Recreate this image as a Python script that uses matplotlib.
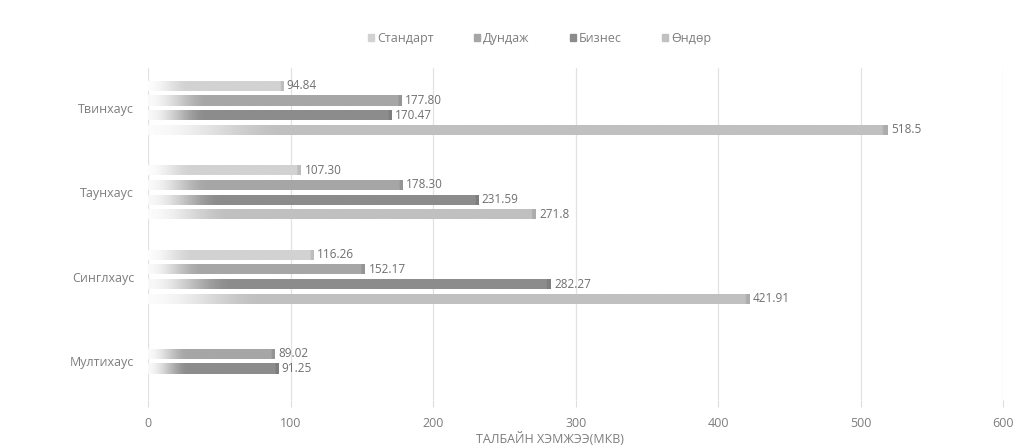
import numpy as np
import matplotlib.pyplot as plt
from matplotlib.colors import to_rgb

categories = ["Твинхаус", "Таунхаус", "Синглхаус", "Мултихаус"]
series = ["Стандарт", "Дундаж", "Бизнес", "Өндөр"]
standart = [94.84, 107.30, 116.26, np.nan]
dundaj = [177.80, 178.30, 152.17, 89.02]
biznes = [170.47, 231.59, 282.27, 91.25]
undur = [518.5, 271.8, 421.91, np.nan]
labels = [
    ["94.84", "107.30", "116.26", ""],
    ["177.80", "178.30", "152.17", "89.02"],
    ["170.47", "231.59", "282.27", "91.25"],
    ["518.5", "271.8", "421.91", ""],
]
colors = ["#d2d2d2", "#a6a6a6", "#8c8c8c", "#c0c0c0"]

plt.rcParams['font.family'] = ['Open Sans', 'DejaVu Sans']
text_color = "#7d7d7d"

fig = plt.figure(figsize=(10.28, 4.48), dpi=100)
ax = fig.add_axes([0.144, 0.107, 0.832, 0.741])

y = np.arange(len(categories))
step = 0.173
height = 0.12
values = [standart, dundaj, biznes, undur]


def gradient_fill(patch, color):
    x0, y0 = patch.get_x(), patch.get_y()
    w, h = patch.get_width(), patch.get_height()
    if not np.isfinite(w) or w <= 0:
        return
    n = 300
    xs = np.linspace(0, w, n)
    fade = 14 + 0.16 * w
    t = np.clip(xs / fade, 0, 1)
    t = 0.06 + 0.94 * (t * t * (3 - 2 * t))
    rgb = np.array(to_rgb(color))
    row = 1 - t[:, None] * (1 - rgb[None, :])
    # slightly darker cap at the bar's end
    cap = xs > w - 2.2
    row[cap] = row[cap] * 0.9
    img = np.repeat(row[None, :, :], 2, axis=0)
    im = ax.imshow(img, extent=(x0, x0 + w, y0, y0 + h), aspect='auto',
                   interpolation='bilinear', zorder=3)
    im.set_clip_path(patch)


for i, (name, vals, c) in enumerate(zip(series, values, colors)):
    pos = y + (i - 1.5) * step
    bars = ax.barh(pos, vals, height=height, color=c, label=name,
                   zorder=2, linewidth=0)
    for b, v, lab in zip(bars, vals, labels[i]):
        gradient_fill(b, c)
        b.set_alpha(0)
        if np.isfinite(v):
            ax.text(v + 2.5, b.get_y() + b.get_height() / 2, lab,
                    va='center', ha='left', fontsize=8.5, color="#6f6f6f")

ax.set_xlim(0, 600)
ax.set_ylim(3.46, -0.47)
ax.set_xticks(np.arange(0, 601, 100))
ax.set_yticks(y)
ax.set_yticklabels(categories)
ax.grid(axis='x', color="#e2e2e2", linewidth=0.9, zorder=0)
ax.tick_params(axis='y', length=0, labelsize=9, labelcolor=text_color, pad=10)
ax.tick_params(axis='x', length=5, color="#dddddd", labelsize=9,
               labelcolor=text_color, pad=7)
for s in ax.spines.values():
    s.set_visible(False)

ax.set_xlabel("ТАЛБАЙН ХЭМЖЭЭ(МКВ)", fontsize=9, color=text_color, labelpad=1)
ax.xaxis.set_label_coords((550 - 148) / 855, -0.095)

handles = [plt.Rectangle((0, 0), 1, 1, color=c) for c in colors]
fig.legend(handles, series, loc='center', bbox_to_anchor=(0.525, 0.915),
           ncol=4, frameon=False, fontsize=9, labelcolor=text_color,
           handlelength=0.5, handleheight=0.5, handletextpad=0.25,
           columnspacing=3.2)

fig.savefig("out.png", dpi=100)
